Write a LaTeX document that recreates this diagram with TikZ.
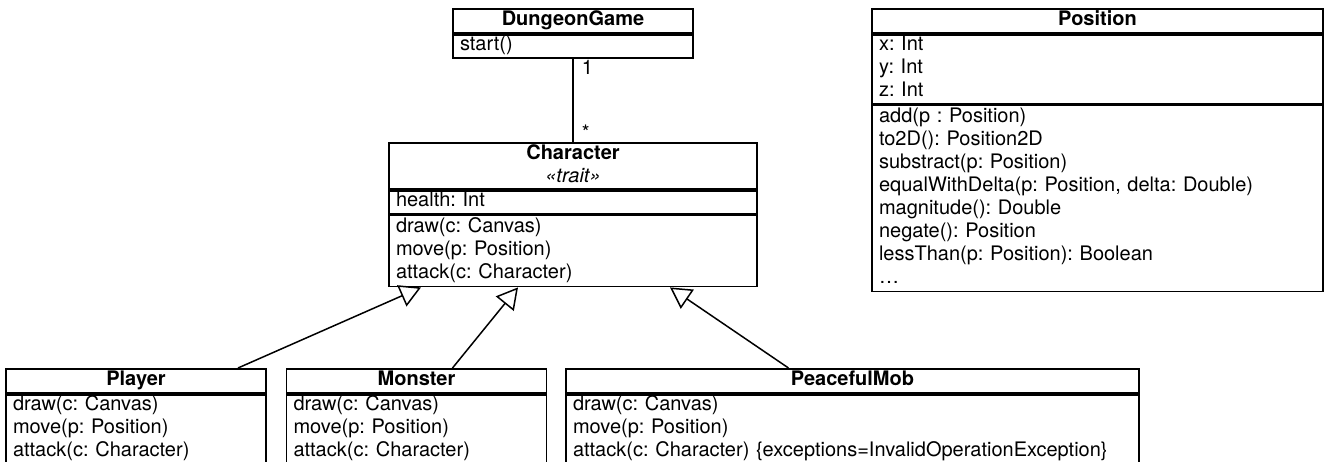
\documentclass[tikz,border=0pt]{standalone}
\usepackage{fontspec}
\setmainfont{TeX Gyre Heros}
\usetikzlibrary{positioning,arrows.meta}
\frenchspacing

\tikzset{
  umlhead/.style={draw, line width=0.9pt, font=\fontsize{10pt}{11.5pt}\selectfont\bfseries, align=center, text width=#1, inner xsep=3.5pt, inner ysep=0pt, minimum height=12pt, execute at begin node=\strut, execute at end node=\strut},
  umlbody/.style={draw, line width=0.9pt, font=\fontsize{10pt}{11.5pt}\selectfont, align=left, text width=#1, inner xsep=3.5pt, inner ysep=0pt, execute at begin node=\strut, execute at end node=\strut},
  mult/.style={font=\fontsize{10pt}{11.5pt}\selectfont, inner sep=1pt},
  inherit/.style={line width=0.75pt, -{Triangle[open, length=10.5pt, width=11.5pt]}},
}

\begin{document}
\begin{tikzpicture}[x=0.5pt, y=-0.5pt]
\useasboundingbox (0,0) rectangle (1328,461);

\node[umlhead=113pt, anchor=north] (game) at (573,8) {DungeonGame};
\node[umlbody=113pt, below=0pt of game] (gameops) {start()};

\node[umlhead=177pt, anchor=north] (character) at (573,142) {Character\\\textit{\mdseries «trait»}};
\node[umlbody=177pt, below=0pt of character] (charattr) {health: Int};
\node[umlbody=177pt, below=0pt of charattr, minimum height=35.5pt] (charops) {draw(c: Canvas)\\move(p: Position)\\attack(c: Character)};

\node[umlhead=218.5pt, anchor=north] (position) at (1097.5,8) {Position};
\node[umlbody=218.5pt, below=0pt of position] (posattr) {x: Int\\y: Int\\z: Int};
\node[umlbody=218.5pt, below=0pt of posattr, minimum height=93pt] (posops) {add(p : Position)\\to2D(): Position2D\\substract(p: Position)\\equalWithDelta(p: Position, delta: Double)\\magnitude(): Double\\negate(): Position\\lessThan(p: Position): Boolean\\…};

\node[umlhead=123pt, anchor=north] (player) at (136,368) {Player};
\node[umlbody=123pt, below=0pt of player] (playerops) {draw(c: Canvas)\\move(p: Position)\\attack(c: Character)};

\node[umlhead=123pt, anchor=north] (monster) at (416.5,368) {Monster};
\node[umlbody=123pt, below=0pt of monster] (monsterops) {draw(c: Canvas)\\move(p: Position)\\attack(c: Character)};

\node[umlhead=279.5pt, anchor=north] (mob) at (852.5,368) {PeacefulMob};
\node[umlbody=279.5pt, below=0pt of mob] (mobops) {draw(c: Canvas)\\move(p: Position)\\attack(c: Character) \{exceptions=InvalidOperationException\}};

\draw[line width=0.75pt] (gameops) -- node[mult, pos=0, anchor=north west, xshift=3pt, yshift=0.5pt] {1} node[mult, pos=1, anchor=south west, xshift=3pt] {*} (character);

\draw[inherit] ([xshift=51pt]player.north) -- ([xshift=-76pt]charops.south);
\draw[inherit] ([xshift=18pt]monster.north) -- ([xshift=-27.5pt]charops.south);
\draw[inherit] ([xshift=-32pt]mob.north) -- ([xshift=48.5pt]charops.south);
\end{tikzpicture}
\end{document}
